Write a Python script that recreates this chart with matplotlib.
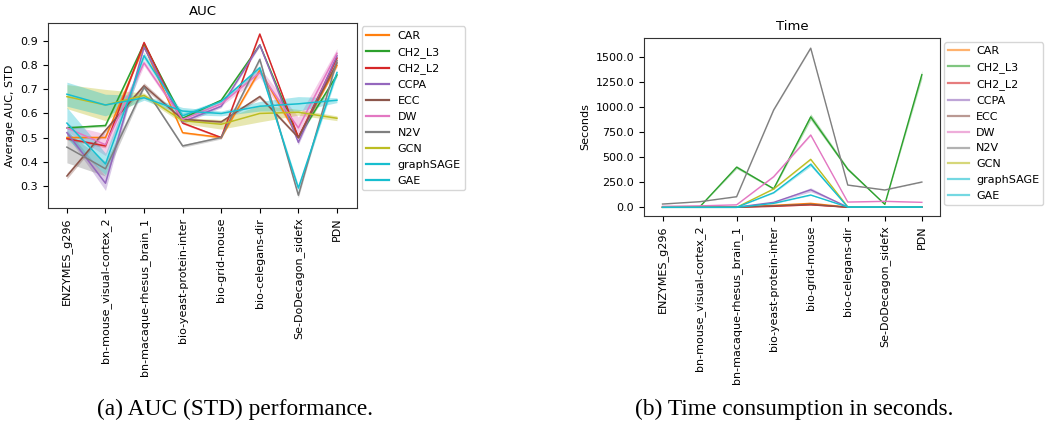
import numpy as np
import matplotlib
matplotlib.use("Agg")
import matplotlib.pyplot as plt
from matplotlib.lines import Line2D

datasets = ["ENZYMES_g296", "bn-mouse_visual-cortex_2", "bn-macaque-rhesus_brain_1",
            "bio-yeast-protein-inter", "bio-grid-mouse", "bio-celegans-dir",
            "Se-DoDecagon_sidefx", "PDN"]
methods = ["CAR", "CH2_L3", "CH2_L2", "CCPA", "ECC", "DW", "N2V", "GCN", "graphSAGE", "GAE"]
colors = ["tab:orange", "tab:green", "tab:red", "tab:purple", "tab:brown",
          "tab:pink", "tab:gray", "tab:olive", "tab:cyan", "tab:cyan"]

# AUC means
auc_car = [0.50, 0.50, 0.88, 0.52, 0.50, 0.78, 0.50, 0.80]
auc_ch2l3 = [0.54, 0.55, 0.89, 0.58, 0.655, 0.885, 0.50, 0.76]
auc_ch2l2 = [0.495, 0.465, 0.895, 0.56, 0.50, 0.93, 0.50, 0.83]
auc_ccpa = [0.52, 0.31, 0.875, 0.565, 0.63, 0.885, 0.48, 0.84]
auc_ecc = [0.34, 0.53, 0.715, 0.575, 0.565, 0.67, 0.50, 0.81]
auc_dw = [0.54, 0.47, 0.81, 0.575, 0.64, 0.77, 0.54, 0.85]
auc_n2v = [0.46, 0.37, 0.71, 0.465, 0.50, 0.825, 0.26, 0.82]
auc_gcn = [0.67, 0.635, 0.675, 0.57, 0.555, 0.60, 0.605, 0.58]
auc_sage = [0.56, 0.39, 0.84, 0.59, 0.65, 0.79, 0.29, 0.77]
auc_gae = [0.68, 0.635, 0.665, 0.61, 0.60, 0.63, 0.64, 0.655]

# AUC standard deviations
std_car = [0.005, 0.005, 0.005, 0.004, 0.004, 0.008, 0.004, 0.008]
std_ch2l3 = [0.005, 0.005, 0.005, 0.004, 0.004, 0.005, 0.004, 0.008]
std_ch2l2 = [0.005, 0.008, 0.005, 0.004, 0.004, 0.005, 0.004, 0.008]
std_ccpa = [0.012, 0.03, 0.006, 0.008, 0.006, 0.006, 0.01, 0.01]
std_ecc = [0.012, 0.008, 0.012, 0.006, 0.006, 0.008, 0.006, 0.01]
std_dw = [0.015, 0.045, 0.012, 0.01, 0.008, 0.02, 0.045, 0.02]
std_n2v = [0.065, 0.03, 0.006, 0.006, 0.006, 0.008, 0.01, 0.01]
std_gcn = [0.05, 0.065, 0.01, 0.012, 0.02, 0.035, 0.012, 0.01]
std_sage = [0.065, 0.045, 0.015, 0.012, 0.008, 0.01, 0.012, 0.012]
std_gae = [0.05, 0.045, 0.01, 0.015, 0.01, 0.02, 0.03, 0.01]

# Time means (seconds)
t_car = [2, 2, 2, 20, 40, 3, 3, 3]
t_ch2l3 = [0, 3, 400, 185, 900, 380, 30, 1320]
t_ch2l2 = [1, 1, 1, 10, 25, 1, 1, 1]
t_ccpa = [1, 1, 2, 50, 175, 3, 3, 3]
t_ecc = [1, 1, 1, 15, 30, 1, 1, 1]
t_dw = [10, 15, 25, 305, 720, 53, 60, 50]
t_n2v = [33, 56, 106, 969, 1584, 222, 173, 252]
t_gcn = [0, 0, 0, 183, 478, 5, 5, 5]
t_sage = [0, 0, 0, 146, 428, 3, 3, 3]
t_gae = [0, 0, 0, 40, 123, 3, 3, 3]

# Time standard deviations
ts_car = [0, 0, 0, 2, 5, 0, 0, 0]
ts_ch2l3 = [0, 0, 15, 8, 30, 15, 5, 40]
ts_ch2l2 = [0, 0, 0, 1, 3, 0, 0, 0]
ts_ccpa = [0, 0, 0, 5, 20, 0, 0, 0]
ts_ecc = [0, 0, 0, 2, 5, 0, 0, 0]
ts_dw = [1, 1, 1, 5, 8, 2, 2, 2]
ts_n2v = [1, 1, 2, 5, 5, 3, 3, 3]
ts_gcn = [0, 0, 0, 4, 6, 0, 0, 0]
ts_sage = [0, 0, 0, 6, 20, 0, 0, 0]
ts_gae = [0, 0, 0, 3, 5, 0, 0, 0]

auc_ticks = [0.3, 0.4, 0.5, 0.6, 0.7, 0.8, 0.9]
time_ticks = [0, 250, 500, 750, 1000, 1250, 1500]

auc_means = [auc_car, auc_ch2l3, auc_ch2l2, auc_ccpa, auc_ecc, auc_dw, auc_n2v, auc_gcn, auc_sage, auc_gae]
auc_stds = [std_car, std_ch2l3, std_ch2l2, std_ccpa, std_ecc, std_dw, std_n2v, std_gcn, std_sage, std_gae]
t_means = [t_car, t_ch2l3, t_ch2l2, t_ccpa, t_ecc, t_dw, t_n2v, t_gcn, t_sage, t_gae]
t_stds = [ts_car, ts_ch2l3, ts_ch2l2, ts_ccpa, ts_ecc, ts_dw, ts_n2v, ts_gcn, ts_sage, ts_gae]

W, H = 1046, 425
fig = plt.figure(figsize=(W / 100, H / 100), dpi=100)
FS = 8

def px_axes(l, t, r, b):
    return fig.add_axes([l / W, 1 - b / H, (r - l) / W, (b - t) / H])

ax1 = px_axes(48, 23, 357, 208)
ax2 = px_axes(644, 38, 940, 216)

x = np.arange(len(datasets))

for m, c, mu, sd in zip(methods, colors, auc_means, auc_stds):
    mu = np.array(mu); sd = np.array(sd)
    ax1.fill_between(x, mu - sd, mu + sd, color=c, alpha=0.35, lw=0)
    ax1.plot(x, mu, color=c, lw=1.1, label=m)

for m, c, mu, sd in zip(methods, colors, t_means, t_stds):
    mu = np.array(mu, float); sd = np.array(sd, float)
    ax2.fill_between(x, mu - sd, mu + sd, color=c, alpha=0.35, lw=0)
    ax2.plot(x, mu, color=c, lw=1.0, label=m)

for ax in (ax1, ax2):
    ax.set_xticks(x)
    ax.set_xticklabels(datasets, rotation=90, fontsize=FS)
    ax.tick_params(axis='y', labelsize=FS)
    for s in ax.spines.values():
        s.set_color('#333333')

ax1.set_xlim(-0.49, 7.52)
ax1.set_ylim(0.207, 0.976)
ax1.set_yticks(auc_ticks)
ax1.set_title("AUC", fontsize=9.5)
ax1.set_ylabel("Average AUC, STD", fontsize=FS)

ax2.set_xlim(-0.5, 7.49)
ax2.set_ylim(-86, 1685)
ax2.set_yticks(time_ticks)
ax2.yaxis.set_major_formatter(matplotlib.ticker.FormatStrFormatter('%.1f'))
ax2.set_title("Time", fontsize=9.5)
ax2.set_ylabel("Seconds", fontsize=FS)

h1 = [Line2D([0], [0], color=c, lw=1.6) for c in colors]
leg1 = ax1.legend(h1, methods, loc='upper left', bbox_to_anchor=(1.005, 1.0),
                  fontsize=FS, borderaxespad=0.3, handlelength=2.0, labelspacing=0.53)
h2 = [Line2D([0], [0], color=c, lw=1.6, alpha=0.6) for c in colors]
leg2 = ax2.legend(h2, methods, loc='upper left', bbox_to_anchor=(1.0, 1.0),
                  fontsize=FS, borderaxespad=0.4, handlelength=1.9, handletextpad=0.6,
                  borderpad=0.35, labelspacing=0.53)

fig.text(235 / W, 1 - 409 / H, "(a) AUC (STD) performance.", ha='center', va='center',
         fontsize=16.8, family='Liberation Serif')
fig.text(794 / W, 1 - 409 / H, "(b) Time consumption in seconds.", ha='center', va='center',
         fontsize=16.8, family='Liberation Serif')

fig.savefig("out.png", dpi=100)
